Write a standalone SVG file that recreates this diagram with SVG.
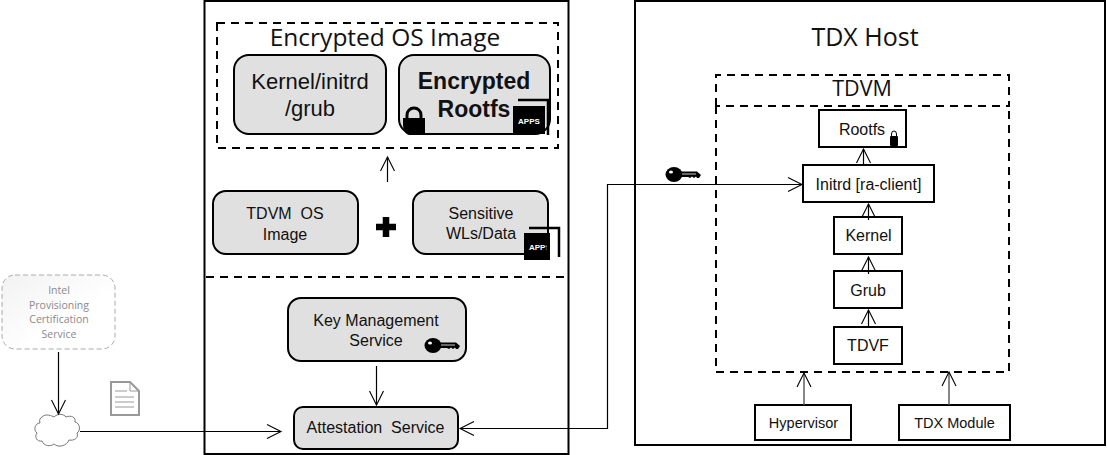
<svg xmlns="http://www.w3.org/2000/svg" width="1107" height="455" viewBox="0 0 1107 455">
<style>
.panel{fill:#fff;stroke:#000;stroke-width:2}
.dash{fill:none;stroke:#000;stroke-width:2;stroke-dasharray:8 6}
.gray{fill:#e0e0e0;stroke:#000;stroke-width:2}
.box{fill:#fff;stroke:#000;stroke-width:2}
.t{font-family:"Liberation Sans",Arial,sans-serif;fill:#111;text-anchor:middle}
.o{font-family:"Open Sans",sans-serif;fill:#111;text-anchor:middle}
.c{fill:none;stroke:#000;stroke-width:1.2}
.cg{fill:none;stroke:#555;stroke-width:1.4}
</style>
<defs>
<marker id="a" markerUnits="userSpaceOnUse" markerWidth="18" markerHeight="20" refX="15" refY="9" orient="auto-start-reverse"><path d="M1 2L15 9L1 16" fill="none" stroke="#000" stroke-width="1.1"/></marker>
<linearGradient id="ig" x1="0" y1="0" x2="1" y2="1"><stop offset="0" stop-color="#f2f2f2"/><stop offset="0.6" stop-color="#fff"/></linearGradient>
<symbol id="key" viewBox="0 0 35 15" overflow="visible"><ellipse cx="8" cy="7.500" rx="8.500" ry="7.500" fill="#000"/><ellipse cx="5" cy="5" rx="2" ry="1.500" fill="#fff"/><path d="M14 4.500H31L35 8L33 11H31L30 9.500L28 11L26 9.500L24 11L22 10H14Z" fill="#000"/><path d="M16 7H30" stroke="#fff" stroke-width="0.8"/></symbol>
<symbol id="apps" viewBox="0 0 32 28" overflow="visible"><rect width="32" height="28" fill="#000"/><text x="16" y="18" font-family="'Liberation Sans',sans-serif" font-weight="700" font-size="8" fill="#fff" text-anchor="middle">APPS</text></symbol>
</defs>
<g id="left-panel"><rect class="panel" x="204.500" y="1" width="364" height="453"/></g>
<g id="right-panel"><rect class="panel" x="635" y="1" width="470" height="444"/><text class="o" x="865" y="46" font-size="25">TDX Host</text></g>
<g id="encrypted-os-image"><rect class="dash" x="217" y="23" width="341" height="125"/><text class="o" x="385" y="46" font-size="24.500">Encrypted OS Image</text></g>
<g id="kernel-initrd-grub"><rect class="gray" x="234" y="55" width="152" height="79" rx="15"/><text class="t" x="310" y="89" font-size="22">Kernel/initrd</text><text class="t" x="310" y="116" font-size="22">/grub</text></g>
<g id="encrypted-rootfs"><rect class="gray" x="399" y="55" width="151" height="79" rx="15"/><text class="t" x="474" y="89" font-size="23" font-weight="700">Encrypted</text><text class="t" x="474" y="117" font-size="23" font-weight="700">Rootfs</text>
<path d="M407 120V115A7 7 0 0 1 421 115V120" fill="none" stroke="#000" stroke-width="3"/><path d="M403 118H425V135H409Q403 133 403 125Z" fill="#000"/>
<path d="M518 100H548V135" fill="none" stroke="#000" stroke-width="2.500"/><use href="#apps" x="513" y="106" width="32" height="28"/></g>
<g id="tdvm-os-image"><rect class="gray" x="213" y="191" width="145" height="63" rx="13"/><text class="t" x="285" y="219" font-size="16" xml:space="preserve">TDVM  OS</text><text class="t" x="285" y="240" font-size="16">Image</text></g>
<g id="plus"><path d="M386 217V237M376 227H396" stroke="#000" stroke-width="6.500"/></g>
<g id="sensitive-wls"><rect class="gray" x="413" y="191" width="135" height="63" rx="13"/><text class="t" x="481" y="219" font-size="16">Sensitive</text><text class="t" x="481" y="239" font-size="16">WLs/Data</text>
<path d="M529 228H559V257" fill="none" stroke="#000" stroke-width="2.500"/><rect x="524" y="233" width="26" height="27" fill="#000"/><text x="529" y="250" font-family="'Liberation Sans',sans-serif" font-weight="700" font-size="8" fill="#fff">APPS</text><rect x="546.500" y="240" width="3.500" height="14" fill="#000"/></g>
<g id="divider"><path class="dash" d="M206 277H567"/></g>
<g id="key-management"><rect class="gray" x="288" y="298" width="178" height="63" rx="13"/><text class="t" x="376" y="326" font-size="16">Key Management</text><text class="t" x="376" y="346" font-size="16">Service</text><use href="#key" x="425" y="338" width="35" height="15"/></g>
<g id="attestation"><rect class="gray" x="294" y="407" width="164" height="42" rx="9"/><text class="t" x="375.500" y="433" font-size="16" xml:space="preserve">Attestation  Service</text></g>
<g id="intel-pcs"><rect x="2" y="275" width="113" height="74" rx="13" fill="url(#ig)" stroke="#aaa" stroke-width="1" stroke-dasharray="5 3"/>
<g class="o" font-size="10.500" style="fill:#8a8a8a"><text x="59" y="294">Intel</text><text x="59" y="309">Provisioning</text><text x="59" y="323">Certification</text><text x="59" y="338">Service</text></g></g>
<g id="cloud"><path d="M42 417C46 413 52 416 54 417C58 413 64 414 66 417C71 415 76 417 75 422C80 423 81 431 77 433C79 438 74 441 69 440C67 446 58 448 54 444C50 447 44 446 42 441C37 442 34 437 37 433C33 430 35 423 40 423C39 420 40 418 42 417Z" fill="#fff" stroke="#777" stroke-width="1"/></g>
<g id="document"><path d="M111 382H130L139 391V415H111Z" fill="#fff" stroke="#999" stroke-width="2"/><path d="M130 382V391H139" fill="none" stroke="#999"/><path d="M115 391H127M115 397H134M115 402H134M115 407H134" stroke="#999" stroke-width="1"/></g>
<g id="rootfs"><rect class="box" x="819" y="110" width="87" height="37"/><text class="t" x="862" y="135" font-size="16">Rootfs</text><path d="M891.500 137V134A2.500 3 0 0 1 896.500 134V137" fill="none" stroke="#000"/><rect x="890" y="136" width="8" height="10" rx="1" fill="#000"/></g>
<g id="initrd"><rect class="box" x="803" y="165" width="131" height="37"/><text class="t" x="868.500" y="190" font-size="16">Initrd [ra-client]</text></g>
<g id="kernel"><rect class="box" x="834" y="217" width="68" height="37"/><text class="t" x="868.500" y="241" font-size="16">Kernel</text></g>
<g id="grub"><rect class="box" x="834" y="271" width="68" height="37"/><text class="t" x="868" y="296" font-size="16">Grub</text></g>
<g id="tdvf"><rect class="box" x="834" y="327" width="68" height="37"/><text class="t" x="868" y="351" font-size="16">TDVF</text></g>
<g id="tdvm"><path class="dash" d="M716 106V75H1009V106ZM716 106V372H1009V106"/><text class="o" x="862" y="96" font-size="21.500">TDVM</text></g>
<g id="hypervisor"><rect class="box" x="755" y="405" width="96" height="35"/><text class="t" x="803.500" y="428" font-size="14.500">Hypervisor</text></g>
<g id="tdx-module"><rect class="box" x="899" y="405" width="111" height="35"/><text class="t" x="954.500" y="428" font-size="14.500">TDX Module</text></g>
<use id="key-icon" href="#key" x="666" y="167" width="35" height="15"/>
<g id="connectors">
<path class="c" marker-end="url(#a)" d="M387.500 182V157"/>
<path class="c" marker-end="url(#a)" d="M376.500 366V405"/>
<path class="c" marker-end="url(#a)" d="M58.500 352V414"/>
<path class="c" marker-end="url(#a)" d="M80 431.500H281"/>
<path class="c" marker-start="url(#a)" marker-end="url(#a)" d="M460 428.500H607.500V184.500H802"/>
<path class="c" marker-end="url(#a)" d="M863.500 166V149"/>
<path class="c" marker-end="url(#a)" d="M868.500 220V204"/>
<path class="c" marker-end="url(#a)" d="M868.500 274V257"/>
<path class="c" marker-end="url(#a)" d="M868.500 327V310"/>
<path class="cg" marker-end="url(#a)" d="M804 405V373"/>
<path class="cg" marker-end="url(#a)" d="M949 405V372"/>
</g>
</svg>
